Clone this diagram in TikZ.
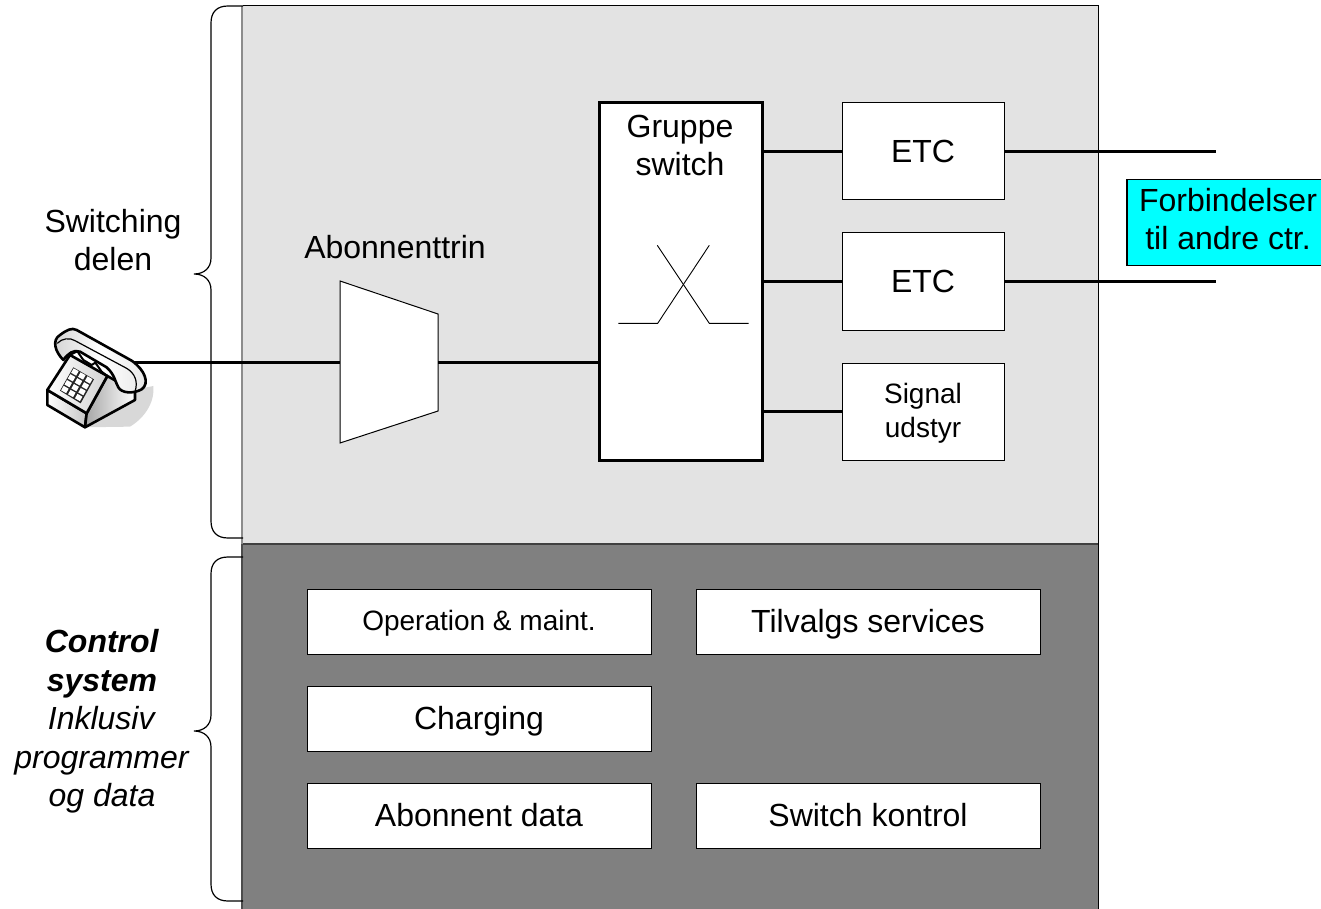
\documentclass[tikz,border=0pt]{standalone}
\usepackage{fontspec}
\setmainfont{Liberation Sans}
\usetikzlibrary{positioning}
\definecolor{lightG}{HTML}{E3E3E3}
\definecolor{darkG}{HTML}{808080}
\definecolor{phoneS}{HTML}{D8D8D8}
\definecolor{noteC}{HTML}{00FFFF}
\newcommand{\bigfont}{\fontsize{32}{38}\selectfont}
\newcommand{\smallfont}{\fontsize{28}{33}\selectfont}
\begin{document}
\begin{tikzpicture}
[x=1pt,y=-1pt,
   unitB/.style={shape=rectangle, draw, line width=1pt, fill=white, inner sep=0pt, outer sep=0pt, align=center, font=\bigfont},
   etcB/.style={unitB, minimum width=162pt, minimum height=97pt},
   ctrlB/.style={unitB, minimum width=344pt, minimum height=65pt, text height=21pt, text depth=0pt},
   wireL/.style={line width=2.8pt},
   thinL/.style={line width=1pt},
   braceL/.style={line width=1.2pt},
   noteT/.style={align=center, font=\bigfont, inner sep=0pt}]
\useasboundingbox (0,0) rectangle (1321,909);
% background areas
\fill[lightG] (243,6) rectangle (1098,544);
\fill[darkG] (243,544) rectangle (1098,909);
\draw[thinL] (243,6) -- (1098,6) -- (1098,909);
\draw[line width=2pt, black!45] (242,6) -- (242,544);
\draw[line width=2pt, black!70] (242,544) -- (242,909);
\draw[line width=1.6pt, black!75] (243,544) -- (1098,544);
% switching part
\node[unitB, line width=3pt, minimum width=163pt, minimum height=357pt] (GS) at (680.5,281.5) {};
\node[noteT] (GStxt) at (680,145) {Gruppe\\switch};
\node[etcB] (ETCa) at (923,151.5) {ETC};
\node[etcB] (ETCb) [below=33pt of ETCa] {ETC};
\node[etcB, font=\smallfont] (SIG) [below=33pt of ETCb] {\rule{0pt}{23pt}Signal\\[1pt]udstyr};
\coordinate (GSa) at (GS.east |- ETCa);
\coordinate (GSb) at (GS.east |- ETCb);
\coordinate (GSc) at (GS.east |- SIG);
\coordinate (OUTa) at (1216,151.5);
\coordinate (OUTb) at (1216,281.5);
\draw[wireL] (GSa) -- (ETCa);
\draw[wireL] (GSb) -- (ETCb);
\draw[wireL] (GSc) -- (SIG);
\draw[wireL] (ETCa.east |- OUTa) -- (OUTa);
\draw[wireL] (ETCb.east |- OUTb) -- (OUTb);
\draw[line width=.9pt] (618.3,323.3) -- (657.7,323.3) -- (709.3,245.3);
\draw[line width=.9pt] (657.3,245.3) -- (709.3,323.3) -- (748.7,323.3);
% subscriber stage
\coordinate (ABa) at (340,281);
\coordinate (ABb) at (438,314);
\coordinate (ABc) at (438,411);
\coordinate (ABd) at (340,443);
\filldraw[fill=white, thinL] (ABa) -- (ABb) -- (ABc) -- (ABd) -- cycle;
\node[noteT] (ABtxt) at (395,247) {Abonnenttrin};
\coordinate (ABin) at (340,362.5);
\coordinate (ABout) at (438,362.5);
\coordinate (GSin) at (GS.west |- ABout);
\coordinate (TEL) at (133,362.5);
\draw[wireL] (TEL) -- (ABin);
\draw[wireL] (ABout) -- (GSin);
\node[draw, line width=1.2pt, fill=noteC, inner sep=0pt, minimum width=202pt, minimum height=86pt, align=center, font=\bigfont] (FB) at (1228,222.5) {Forbindelser\\til andre ctr.\rule[-8pt]{0pt}{8pt}};
% control system
\node[ctrlB, font=\smallfont, text height=17pt] (OM) at (479,621.5) {Operation \& maint.};
\node[ctrlB] (TS) [right=45pt of OM] {Tilvalgs services};
\node[ctrlB] (CH) [below=32pt of OM] {Charging};
\node[ctrlB] (AD) [below=32pt of CH] {Abonnent data};
\node[ctrlB] (SK) [right=45pt of AD] {Switch kontrol};
% braces
\draw[braceL] (243,6) -- (228,6) .. controls (217,6) and (211,12) .. (211,23) -- (211,258)
  .. controls (211,268) and (204,274) .. (194,274) .. controls (204,274) and (211,280) .. (211,290)
  -- (211,521) .. controls (211,532) and (217,538) .. (228,538) -- (243,538);
\draw[braceL] (243,557) -- (228,557) .. controls (217,557) and (211,563) .. (211,574) -- (211,715)
  .. controls (211,725) and (204,731) .. (194,731) .. controls (204,731) and (211,737) .. (211,747)
  -- (211,884) .. controls (211,895) and (217,901) .. (228,901) -- (243,901);
\node[noteT] (SWtxt) at (113,240) {Switching\\delen};
\node[noteT] (CStxt) at (102,721.5) {\textbf{\textit{Control}}\\[.5pt]\textbf{\textit{system}}\\[.5pt]\textit{Inklusiv}\\[.5pt]\textit{programmer}\\[.5pt]\textit{og data}};
% telephone
\begin{scope}[shift={(20,310)},x=0.3333pt,y=-0.3333pt,line width=2.6pt,line join=round]
\fill[phoneS] (190,352) -- (330,350) .. controls (380,320) and (405,270) .. (400,228) -- (340,240) -- cycle;
\draw[left color=white,right color=gray!45] (82,240) -- (200,310) -- (195,352) -- (82,285) -- cycle;
\draw[left color=gray!70,right color=white] (262,198) -- (345,245) -- (345,270) -- (195,352) -- (200,310) -- cycle;
\draw[left color=white,right color=gray!35] (150,135) -- (262,198) -- (200,310) -- (82,240) -- cycle;
\fill[black!85] (160,172) -- (222,208) -- (182,280) -- (120,242) -- cycle;
\foreach \i in {0,1,2} \foreach \j in {0,1,2,3}
  \fill[white] ({160+\i*20.7-\j*10+1},{172+\i*12+\j*17.5+3}) -- ++(15,8.5) -- ++(-7.5,13.5) -- ++(-15,-8.5) -- cycle;
\draw[left color=gray!35,right color=gray!20,middle color=white] (130,150) .. controls (105,125) and (95,90) .. (120,75)
  .. controls (140,60) and (155,52) .. (170,60) -- (335,152)
  .. controls (375,180) and (390,220) .. (365,238) .. controls (340,252) and (305,250) .. (295,232)
  .. controls (285,215) and (285,195) .. (260,172) -- (180,125) .. controls (160,118) and (145,130) .. (130,150) -- cycle;
\draw[line width=1.2pt] (112,100) .. controls (125,85) and (150,82) .. (165,92) -- (320,175) .. controls (345,190) and (355,215) .. (345,245);
\draw[line width=2pt] (150,135) -- (172,124) -- (190,150) -- (215,165) -- (226,158) -- (245,185) -- (262,198);
\end{scope}
\end{tikzpicture}
\end{document}
